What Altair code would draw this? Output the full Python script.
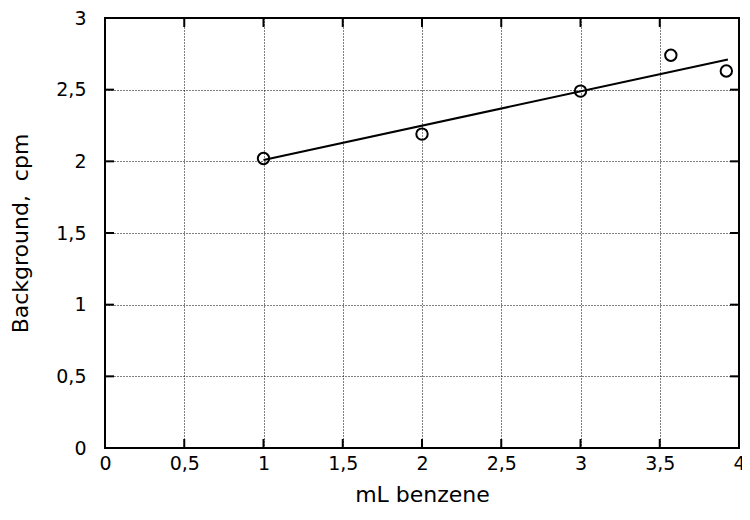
import altair as alt
import pandas as pd

# data
ml_benzene = [1, 2, 3, 3.57, 3.92]
background = [2.02, 2.19, 2.49, 2.74, 2.63]
fit_x = [1, 3.93]
fit_y = [2.01, 2.71]
x_ticks = [0, 0.5, 1, 1.5, 2, 2.5, 3, 3.5, 4]
y_ticks = [0, 0.5, 1, 1.5, 2, 2.5, 3]

W, H = 634, 430
FONT = "DejaVu Sans"
TICKLEN = 9

pts = pd.DataFrame({"x": ml_benzene, "y": background})
fit = pd.DataFrame({"x": fit_x, "y": fit_y})
xt = pd.DataFrame({"v": x_ticks})
yt = pd.DataFrame({"v": y_ticks})

xscale = alt.Scale(domain=[0, 4], nice=False, zero=False)
yscale = alt.Scale(domain=[0, 3], nice=False, zero=False)
lab = "replace(toString(datum.value), '.', ',')"

xaxis = alt.Axis(values=x_ticks, title="mL benzene", labelExpr=lab, grid=True,
                 gridColor="black", gridDash=[1, 2], gridOpacity=1, gridWidth=1,
                 ticks=False, domain=False, labelPadding=6, labelFontSize=19,
                 labelFont=FONT, labelColor="black", titleFont=FONT, titleFontSize=22,
                 titleFontWeight="normal", titleColor="black", titleY=36,
                 labelFlush=False, labelOverlap=False)
yaxis = alt.Axis(values=y_ticks, title="Background,\u00a0\u00a0cpm", labelExpr=lab, grid=True,
                 gridColor="black", gridDash=[1, 2], gridOpacity=1, gridWidth=1,
                 ticks=False, domain=False, labelPadding=19, labelFontSize=19,
                 labelFont=FONT, labelColor="black", titleFont=FONT, titleFontSize=22,
                 titleFontWeight="normal", titleColor="black", titleX=-73,
                 labelFlush=False, labelOverlap=False)

base_pts = alt.Chart(pts).mark_point(shape="circle", filled=False, color="black",
                                     strokeWidth=2, size=130, opacity=1).encode(
    x=alt.X("x:Q", scale=xscale, axis=xaxis),
    y=alt.Y("y:Q", scale=yscale, axis=yaxis),
)

line = alt.Chart(fit).mark_line(color="black", strokeWidth=2).encode(
    x=alt.X("x:Q", scale=xscale),
    y=alt.Y("y:Q", scale=yscale),
)

xt_bottom = alt.Chart(xt).mark_rule(color="black", strokeWidth=2).encode(
    x=alt.X("v:Q", scale=xscale), y=alt.value(H), y2=alt.value(H - TICKLEN))
xt_top = alt.Chart(xt).mark_rule(color="black", strokeWidth=2).encode(
    x=alt.X("v:Q", scale=xscale), y=alt.value(0), y2=alt.value(TICKLEN))
yt_left = alt.Chart(yt).mark_rule(color="black", strokeWidth=2).encode(
    y=alt.Y("v:Q", scale=yscale), x=alt.value(0), x2=alt.value(TICKLEN))
yt_right = alt.Chart(yt).mark_rule(color="black", strokeWidth=2).encode(
    y=alt.Y("v:Q", scale=yscale), x=alt.value(W - TICKLEN), x2=alt.value(W))

chart = alt.layer(base_pts, line, xt_bottom, xt_top, yt_left, yt_right).properties(
    width=W, height=H,
    autosize=alt.AutoSizeParams(type="none"),
    padding={"left": 97, "top": 10, "right": 3, "bottom": 58},
    background="white",
).configure_view(stroke="black", strokeWidth=2)

chart.save("out.html", embed_options={"renderer": "svg", "actions": False})
